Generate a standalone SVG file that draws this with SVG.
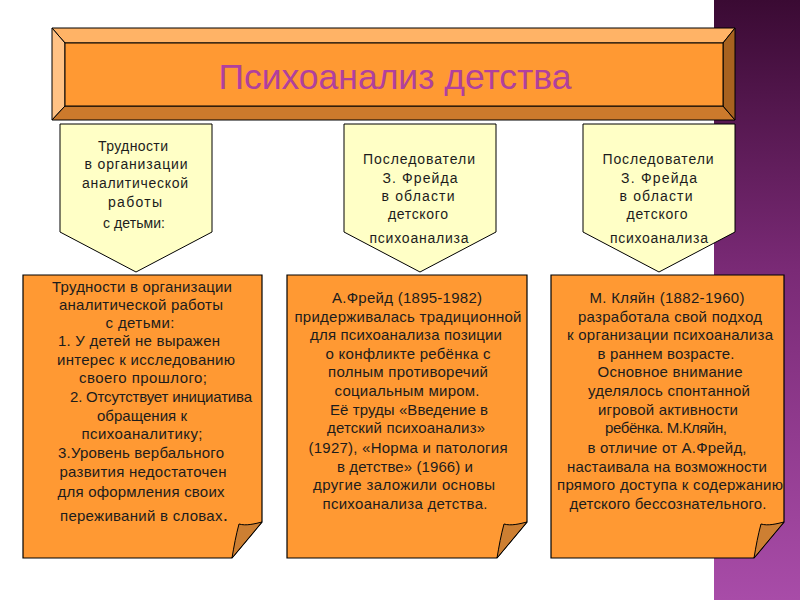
<svg xmlns="http://www.w3.org/2000/svg" width="800" height="600" viewBox="0 0 800 600">
<defs>
<linearGradient id="purp" x1="0" y1="0" x2="0" y2="1">
<stop offset="0" stop-color="#3a0a33"/>
<stop offset="0.45" stop-color="#7a2a76"/>
<stop offset="1" stop-color="#a84ca8"/>
</linearGradient>
<style>
.t{font-family:"Liberation Sans",Arial,sans-serif;font-size:15px;fill:#1c1c1c;text-anchor:middle}
.p{font-family:"Liberation Sans",Arial,sans-serif;font-size:14px;fill:#1c1c1c;text-anchor:middle}
.pent{fill:#ffffc6;stroke:#000;stroke-width:1}
.box{fill:#ff9933;stroke:#000;stroke-width:1.2}
.fold{fill:#cd7f32;stroke:#000;stroke-width:1}
.bv{stroke:#000;stroke-width:1}
</style>
</defs>
<rect x="0" y="0" width="800" height="600" fill="#ffffff"/>
<rect x="714" y="0" width="86" height="600" fill="url(#purp)"/>

<g id="title">
<polygon class="bv" points="52,28 735,28 723,43 65,43" fill="#ffb366"/>
<polygon class="bv" points="52,28 65,43 65,106 52,120" fill="#ffc285"/>
<polygon class="bv" points="52,120 65,106 723,106 735,120" fill="#cc7a2c"/>
<polygon class="bv" points="735,28 735,120 723,106 723,43" fill="#a8621f"/>
<rect class="bv" x="65" y="43" width="658" height="63" fill="#ff9933"/>
<text x="395" y="89" font-family="'Liberation Sans',Arial,sans-serif" font-size="35" fill="#b0409e" text-anchor="middle" textLength="353" lengthAdjust="spacingAndGlyphs">Психоанализ детства</text>
</g>

<g id="box1">
<path class="box" d="M23,275 H262 V522 L232,558 H23 Z"/>
<path class="fold" d="M232,558 C234,546 236,535 239,524 C246,526 254,524 262,522 Z"/>
<text class="t" x="142" y="292" textLength="180">Трудности в организации</text>
<text class="t" x="141" y="310" textLength="164">аналитической работы</text>
<text class="t" x="140" y="328" textLength="69">с детьми:</text>
<text class="t" x="139" y="346" textLength="162">1. У детей не выражен</text>
<text class="t" x="146" y="365" textLength="178">интерес к исследованию</text>
<text class="t" x="143" y="383" textLength="128">своего прошлого;</text>
<text class="t" x="161" y="402" textLength="182">2. Отсутствует инициатива</text>
<text class="t" x="142" y="421" textLength="90">обращения к</text>
<text class="t" x="142" y="439" textLength="121">психоаналитику;</text>
<text class="t" x="141" y="458" textLength="166">3.Уровень вербального</text>
<text class="t" x="143" y="477" textLength="167">развития недостаточен</text>
<text class="t" x="141" y="497" textLength="167">для оформления своих</text>
<text class="t" x="144" y="521" textLength="168">переживаний в словах<tspan font-size="19">.</tspan></text>
</g>

<g id="box2">
<path class="box" d="M287,275 H527 V522 L497,558 H287 Z"/>
<path class="fold" d="M497,558 C499,546 501,535 504,524 C511,526 519,524 527,522 Z"/>
<text class="t" x="407" y="303" textLength="150">А.Фрейд (1895-1982)</text>
<text class="t" x="408" y="322" textLength="227">придерживалась традиционной</text>
<text class="t" x="406" y="340" textLength="192">для психоанализа позиции</text>
<text class="t" x="408" y="359" textLength="165">о конфликте ребёнка с</text>
<text class="t" x="408" y="377" textLength="160">полным противоречий</text>
<text class="t" x="407" y="396" textLength="145">социальным миром.</text>
<text class="t" x="409" y="415" textLength="158">Её труды «Введение в</text>
<text class="t" x="406" y="433" textLength="158">детский психоанализ»</text>
<text class="t" x="408" y="453" textLength="199">(1927), «Норма и патология</text>
<text class="t" x="405" y="472" textLength="136">в детстве» (1966) и</text>
<text class="t" x="404" y="490" textLength="182">другие заложили основы</text>
<text class="t" x="405" y="509" textLength="165">психоанализа детства.</text>
</g>

<g id="box3">
<path class="box" d="M551,275 H784 V522 L754,558 H551 Z"/>
<path class="fold" d="M754,558 C756,546 758,535 761,524 C768,526 776,524 784,522 Z"/>
<text class="t" x="667" y="303" textLength="155">М. Кляйн (1882-1960)</text>
<text class="t" x="670" y="322" textLength="184">разработала свой подход</text>
<text class="t" x="670" y="340" textLength="206">к организации психоанализа</text>
<text class="t" x="666" y="359" textLength="137">в раннем возрасте.</text>
<text class="t" x="670" y="377" textLength="145">Основное внимание</text>
<text class="t" x="669" y="396" textLength="162">уделялось спонтанной</text>
<text class="t" x="668" y="415" textLength="140">игровой активности</text>
<text class="t" x="666" y="433" textLength="122">ребёнка. М.Кляйн,</text>
<text class="t" x="667" y="453" textLength="159">в отличие от А.Фрейд,</text>
<text class="t" x="667" y="472" textLength="200">настаивала на возможности</text>
<text class="t" x="670" y="490" textLength="226">прямого доступа к содержанию</text>
<text class="t" x="668" y="509" textLength="197">детского бессознательного.</text>
</g>

<g id="pent1">
<polygon class="pent" points="60,124 212,124 212,232 136,272 60,232"/>
<text class="p" x="133" y="151" textLength="70">Трудности</text>
<text class="p" x="136" y="169" textLength="103">в организации</text>
<text class="p" x="135" y="188" textLength="106">аналитической</text>
<text class="p" x="135" y="207" textLength="54">работы</text>
<text class="p" x="134" y="228" textLength="62">с детьми:</text>
</g>

<g id="pent2">
<polygon class="pent" points="344,124 496,124 496,232 420,272 344,232"/>
<text class="p" x="419" y="164" textLength="112">Последователи</text>
<text class="p" x="420" y="183" textLength="75">З. Фрейда</text>
<text class="p" x="418" y="201" textLength="73">в области</text>
<text class="p" x="418" y="219" textLength="60">детского</text>
<text class="p" x="419" y="243" textLength="99">психоанализа</text>
</g>

<g id="pent3">
<polygon class="pent" points="583,124 735,124 735,232 659,272 583,232"/>
<text class="p" x="658" y="164" textLength="111">Последователи</text>
<text class="p" x="659" y="183" textLength="76">З. Фрейда</text>
<text class="p" x="656" y="201" textLength="73">в области</text>
<text class="p" x="657" y="219" textLength="61">детского</text>
<text class="p" x="659" y="243" textLength="98">психоанализа</text>
</g>

<g id="connectors"></g>
</svg>
